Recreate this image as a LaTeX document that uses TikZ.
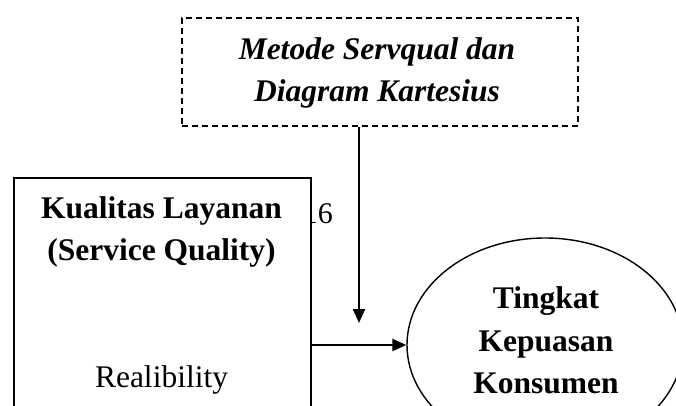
\documentclass[tikz,border=0pt]{standalone}
\usepackage{fontspec}
\setmainfont{Liberation Serif}
\usetikzlibrary{shapes.geometric,arrows.meta}
\begin{document}
\begin{tikzpicture}[x=1pt,y=-1pt,
  txt/.style={font=\fontsize{31.5}{42}\selectfont, inner sep=0pt, anchor=base},
  hd/.style={txt, font=\fontsize{31.5}{42}\selectfont\bfseries},
  hdit/.style={txt, font=\fontsize{31.5}{42}\selectfont\bfseries\itshape},
  methodbox/.style={draw, line width=1.6pt, dash pattern=on 6pt off 4pt,
    minimum width=396pt, minimum height=108pt, inner sep=0pt},
  varbox/.style={draw, line width=1.8pt, fill=white, inner sep=0pt,
    minimum width=297pt, minimum height=300pt, anchor=north west},
  outcome/.style={ellipse, draw, line width=1.4pt, inner sep=0pt,
    minimum width=276pt, minimum height=214pt},
  arr/.style={line width=2.4pt, -{Triangle[length=14pt,width=12pt]}}
]
\useasboundingbox (0,0) rectangle (676,406);
\clip (0,0) rectangle (676,406);

% method box
\node[methodbox] (method) at (380,72) {};
\node[hdit] (m1) at (377,60) {Metode Servqual dan};
\node[hdit] (m2) at (377,102) {Diagram Kartesius};

% page number, partly covered by the variable box
\node[txt, anchor=base east, font=\fontsize{30}{36}\selectfont] (pg) at (333,223) {16};

% independent variable box
\node[varbox] (kual) at (13,177) {};
\node[hd] (k1) at (161.5,218) {Kualitas Layanan};
\node[hd] (k2) at (161.5,260) {(Service Quality)};
\node[txt] (k3) at (161.5,387) {Realibility};

% dependent variable
\node[outcome] (tkp) at (545,345) {};
\node[hd] (t1) at (546,308) {Tingkat};
\node[hd] (t2) at (546,351) {Kepuasan};
\node[hd] (t3) at (546,393) {Konsumen};

% connectors
\coordinate (drop) at (359,323);
\draw[arr] (method.south -| drop) -- (drop);
\draw[arr] (kual.east |- tkp.west) -- (tkp.west);
\end{tikzpicture}
\end{document}
